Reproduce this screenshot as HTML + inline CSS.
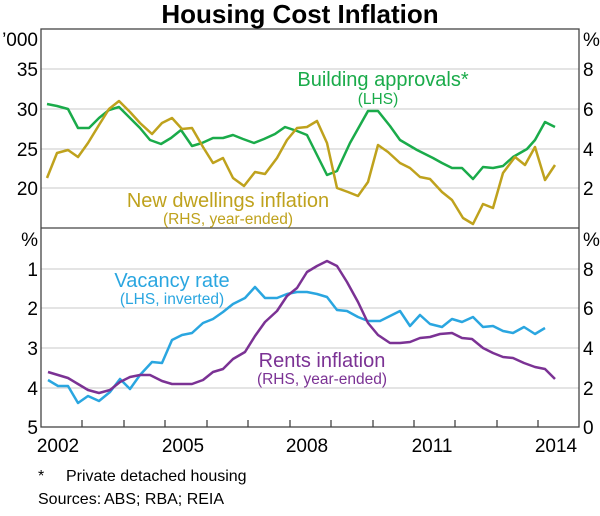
<!DOCTYPE html>
<html><head><meta charset="utf-8"><style>
body{margin:0;background:#fff}
svg text{font-family:"Liberation Sans",Arial,sans-serif}
</style></head><body>
<svg width="600" height="511" viewBox="0 0 600 511" xmlns="http://www.w3.org/2000/svg">
<text x="300" y="23" font-size="26" font-weight="bold" text-anchor="middle" fill="#000">Housing Cost Inflation</text>
<g stroke="#c8c8c8" stroke-width="1">
<line x1="41" x2="579" y1="69" y2="69"/><line x1="41" x2="579" y1="109" y2="109"/><line x1="41" x2="579" y1="149" y2="149"/><line x1="41" x2="579" y1="188" y2="188"/>
<line x1="41" x2="579" y1="269" y2="269"/><line x1="41" x2="579" y1="308" y2="308"/><line x1="41" x2="579" y1="348" y2="348"/><line x1="41" x2="579" y1="388" y2="388"/>
</g>
<rect x="41" y="29" width="538" height="398" fill="none" stroke="#444" stroke-width="1.3"/>
<line x1="41" x2="579" y1="228" y2="228" stroke="#444" stroke-width="1.3"/>
<g stroke="#444" stroke-width="1.3">
<line x1="82" x2="82" y1="420" y2="427"/><line x1="124" x2="124" y1="420" y2="427"/><line x1="165" x2="165" y1="420" y2="427"/><line x1="207" x2="207" y1="420" y2="427"/><line x1="248" x2="248" y1="420" y2="427"/><line x1="290" x2="290" y1="420" y2="427"/><line x1="331" x2="331" y1="420" y2="427"/><line x1="373" x2="373" y1="420" y2="427"/><line x1="414" x2="414" y1="420" y2="427"/><line x1="455" x2="455" y1="420" y2="427"/><line x1="497" x2="497" y1="420" y2="427"/><line x1="538" x2="538" y1="420" y2="427"/>
</g>
<g font-size="19" fill="#000">
<g text-anchor="end">
<text x="38" y="46">’000</text><text x="38" y="76">35</text><text x="38" y="116">30</text><text x="38" y="156">25</text><text x="38" y="195">20</text>
<text x="38" y="246">%</text><text x="38" y="276">1</text><text x="38" y="315">2</text><text x="38" y="355">3</text><text x="38" y="395">4</text><text x="38" y="434">5</text>
</g>
<g text-anchor="start">
<text x="583" y="46">%</text><text x="583" y="76">8</text><text x="583" y="116">6</text><text x="583" y="156">4</text><text x="583" y="195">2</text>
<text x="583" y="246">%</text><text x="583" y="276">8</text><text x="583" y="315">6</text><text x="583" y="355">4</text><text x="583" y="395">2</text><text x="583" y="434">0</text>
</g>
<g text-anchor="middle">
<text x="58" y="452">2002</text><text x="183" y="452">2005</text><text x="307" y="452">2008</text><text x="432" y="452">2011</text><text x="556" y="452">2014</text>
</g>
</g>
<g fill="none" stroke-width="2.5" stroke-linejoin="round">
<polyline stroke="#1aab4a" points="47,104 57,106 68,109 78,128 89,128 99,118 109,110 119,107 130,118 140,128 150,140 161,144 171,138 181,130 192,146 202,143 213,138 223,138 233,135 243,139 254,143 264,139 275,134 285,127 297,131 307,135 317,155 327,175 337,171 350,143 368,111 378,111 390,126 400,140 417,150 433,158 442,163 452,168 462,168 473,179 483,167 493,168 503,166 513,157 527,149 535,140 545,122 555,127"/>
<polyline stroke="#bfa21d" points="47,178 57,153 68,150 78,157 88,143 99,125 109,109 119,101 130,112 140,123 152,134 162,123 172,118 182,129 192,128 203,147 213,163 223,158 233,178 244,186 255,172 265,174 277,158 287,140 297,128 307,127 317,121 327,143 337,188 348,192 358,196 368,182 378,145 388,152 400,163 410,168 420,177 430,179 442,192 452,200 463,218 473,224 483,204 493,208 503,173 515,157 525,165 535,147 545,180 555,165"/>
<polyline stroke="#2aa6e0" points="48,380 58,386 68,386 78,403 88,396 99,401 110,392 120,379 130,389 140,375 152,362 162,363 172,340 182,335 192,333 203,323 213,319 223,312 233,304 245,298 255,287 265,298 277,298 287,294 297,292 307,292 317,294 327,297 337,310 347,311 358,317 368,321 380,321 390,316 400,311 410,326 420,315 430,324 442,327 452,319 462,322 473,317 483,327 493,326 503,331 513,333 524,327 535,334 545,328"/>
<polyline stroke="#7b3294" points="48,372 58,375 68,378 78,384 88,390 99,393 110,390 120,382 130,377 140,375 150,375 162,381 172,384 182,384 192,384 203,380 213,372 223,369 233,359 245,352 255,336 265,322 277,311 287,296 297,288 307,272 317,266 327,261 337,266 347,282 358,302 368,323 378,335 390,343 400,343 410,342 420,338 430,337 440,334 452,333 462,338 472,339 483,348 493,353 503,357 513,358 524,363 535,367 545,369 555,379"/>
</g>
<g text-anchor="middle">
<text x="383" y="86" font-size="20" fill="#1aab4a">Building approvals*</text>
<text x="378" y="104" font-size="15.5" fill="#1aab4a">(LHS)</text>
<text x="228" y="207" font-size="20" fill="#bfa21d">New dwellings inflation</text>
<text x="228" y="224" font-size="15.5" fill="#bfa21d">(RHS, year-ended)</text>
<text x="172" y="287" font-size="20" fill="#2aa6e0">Vacancy rate</text>
<text x="172" y="304" font-size="15.5" fill="#2aa6e0">(LHS, inverted)</text>
<text x="322" y="367" font-size="20" fill="#7b3294">Rents inflation</text>
<text x="322" y="384" font-size="15.5" fill="#7b3294">(RHS, year-ended)</text>
</g>
<g font-size="16" fill="#000">
<text x="38" y="481">*</text><text x="66" y="481">Private detached housing</text>
<text x="38" y="504">Sources:</text><text x="104" y="504">ABS; RBA; REIA</text>
</g>
</svg>
</body></html>
